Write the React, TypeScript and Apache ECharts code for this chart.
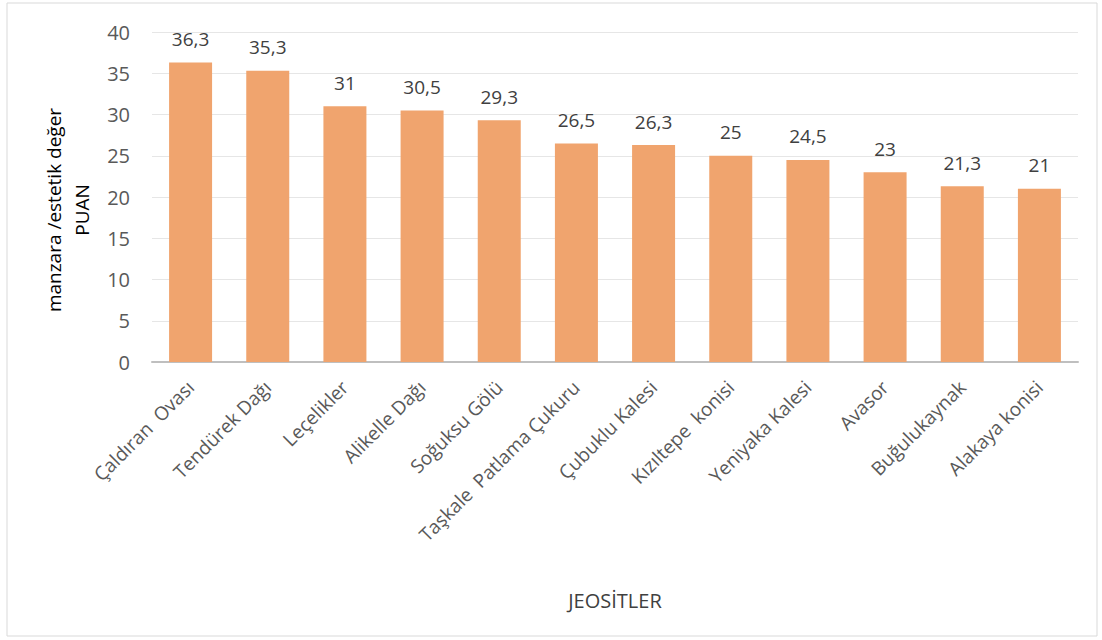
import React, { useEffect, useRef } from "react";
import * as echarts from "echarts";

const categories = [
  "Çaldıran  Ovası",
  "Tendürek Dağı",
  "Leçelikler",
  "Alikelle Dağı",
  "Soğuksu Gölü",
  "Taşkale  Patlama Çukuru",
  "Çubuklu Kalesi",
  "Kızıltepe  konisi",
  "Yeniyaka Kalesi",
  "Avasor",
  "Buğulukaynak",
  "Alakaya konisi",
];
const scores = [36.3, 35.3, 31, 30.5, 29.3, 26.5, 26.3, 25, 24.5, 23, 21.3, 21];
const yTicks = { min: 0, max: 40, interval: 5 };

const FONT = "'Open Sans', 'Noto Sans', sans-serif";
const TEXT = "#595959";

export default function App() {
  const ref = useRef<HTMLDivElement>(null);
  useEffect(() => {
    if (!ref.current) return;
    const chart = echarts.init(ref.current, undefined, { renderer: "svg" });
    chart.setOption({
      animation: false,
      backgroundColor: "#ffffff",
      textStyle: { fontFamily: FONT },
      graphic: [
        {
          type: "rect",
          shape: { x: 7, y: 3, width: 1090, height: 633 },
          style: { fill: "none", stroke: "#d9d9d9", lineWidth: 1 },
          silent: true,
        },
      ],
      grid: { left: 152, right: 24, top: 32, bottom: 278, containLabel: false },
      xAxis: {
        type: "category",
        data: categories,
        name: "JEOSİTLER",
        nameLocation: "middle",
        nameGap: 228,
        nameTextStyle: { color: "#404040", fontSize: 20, fontFamily: FONT },
        axisLine: { lineStyle: { color: "#bfbfbf", width: 2 } },
        axisTick: { show: false },
        axisLabel: {
          rotate: 45,
          interval: 0,
          margin: 22,
          color: TEXT,
          fontSize: 19,
          fontFamily: FONT,
        },
      },
      yAxis: {
        type: "value",
        min: yTicks.min,
        max: yTicks.max,
        interval: yTicks.interval,
        name: "manzara /estetik değer\nPUAN",
        nameLocation: "middle",
        nameRotate: 90,
        nameGap: 52,
        nameTextStyle: {
          color: "#000000",
          fontSize: 19,
          fontFamily: FONT,
          lineHeight: 28,
          padding: [0, 26, 0, 0],
        },
        axisLine: { show: false },
        axisTick: { show: false },
        axisLabel: { color: TEXT, fontSize: 20, margin: 22, fontFamily: FONT },
        splitLine: { lineStyle: { color: "#e6e6e6", width: 1 } },
      },
      series: [
        {
          type: "bar",
          data: scores,
          barWidth: 43,
          itemStyle: { color: "#F0A46E" },
          label: {
            show: true,
            position: "top",
            distance: 14,
            color: "#404040",
            fontSize: 19,
            fontFamily: FONT,
            formatter: (p: any) => String(p.value).replace(".", ","),
          },
        },
      ],
    });
    return () => chart.dispose();
  }, []);
  return (
    <div
      ref={ref}
      style={{ position: "absolute", left: 0, top: 0, width: 1102, height: 640 }}
    />
  );
}
